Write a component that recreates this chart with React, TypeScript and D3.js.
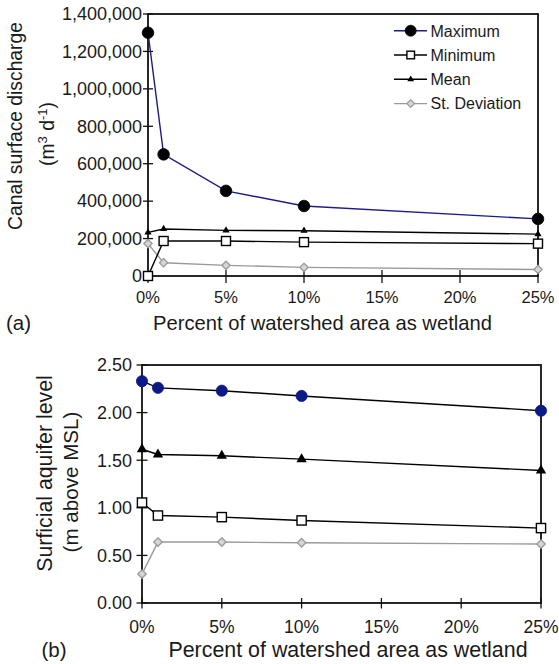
import React from "react";
import * as d3 from "d3";

const wetlandPct = [0, 1, 5, 10, 25];
const xTicks = [0, 5, 10, 15, 20, 25];

// (a) Canal surface discharge (m3 d-1)
const dischargeMax = [1300000, 650000, 455000, 374000, 305000];
const dischargeMin = [0, 187000, 187000, 181000, 173000];
const dischargeMean = [233000, 251000, 244000, 242000, 224000];
const dischargeSD = [173000, 71000, 57000, 46000, 35000];
const dischargeTicks = [0, 200000, 400000, 600000, 800000, 1000000, 1200000, 1400000];

// (b) Surficial aquifer level (m above MSL)
const levelMax = [2.33, 2.26, 2.23, 2.175, 2.02];
const levelMean = [1.615, 1.56, 1.546, 1.511, 1.392];
const levelMin = [1.055, 0.919, 0.902, 0.867, 0.787];
const levelSD = [0.304, 0.64, 0.64, 0.633, 0.619];
const levelTicks = [0, 0.5, 1.0, 1.5, 2.0, 2.5];

const legendNames = ["Maximum", "Minimum", "Mean", "St. Deviation"];

const FONT = "'Liberation Sans', Arial, Helvetica, sans-serif";
const NAVY = "#1c1c86";
const GRAY = "#9a9a9a";

type MarkerKind = "circle" | "square" | "triangle" | "diamond";

function Marker({ kind, x, y, size, fill }: { kind: MarkerKind; x: number; y: number; size: number; fill?: string }) {
  if (kind === "circle") {
    return <circle cx={x} cy={y} r={size} fill={fill || "#000"} stroke={fill || "#000"} strokeWidth={0.8} />;
  }
  if (kind === "square") {
    return (
      <rect x={x - size} y={y - size} width={size * 2} height={size * 2} fill="#fff" stroke="#000" strokeWidth={1.4} />
    );
  }
  if (kind === "triangle") {
    const p = d3.symbol().type(d3.symbolTriangle).size(size * size * 2.2)();
    return <path d={p || ""} transform={`translate(${x},${y})`} fill="#000" />;
  }
  const p = d3.symbol().type(d3.symbolDiamond2 || d3.symbolDiamond).size(size * size * 4)();
  return <path d={p || ""} transform={`translate(${x},${y})`} fill="#d6d6d6" stroke={GRAY} strokeWidth={1.3} />;
}

function Series({
  xs, ys, xScale, yScale, kind, lineColor, markerFill, size,
}: {
  xs: number[]; ys: number[]; xScale: d3.ScaleLinear<number, number>; yScale: d3.ScaleLinear<number, number>;
  kind: MarkerKind; lineColor: string; markerFill?: string; size: number;
}) {
  const pts: [number, number][] = xs.map((v, i) => [xScale(v), yScale(ys[i])]);
  const line = d3.line()(pts) || "";
  return (
    <g>
      <path d={line} fill="none" stroke={lineColor} strokeWidth={1.4} />
      {pts.map((p, i) => (
        <Marker key={i} kind={kind} x={p[0]} y={p[1]} size={size} fill={markerFill} />
      ))}
    </g>
  );
}

export default function App() {
  // Panel (a)
  const xA = d3.scaleLinear().domain([0, 25]).range([148, 538]);
  const yA = d3.scaleLinear().domain([0, 1400000]).range([276, 14]);
  const fmtA = d3.format(",");
  // Panel (b)
  const xB = d3.scaleLinear().domain([0, 25]).range([142, 541]);
  const yB = d3.scaleLinear().domain([0, 2.5]).range([603, 365]);
  const fmtB = d3.format(".2f");

  const legendKinds: MarkerKind[] = ["circle", "square", "triangle", "diamond"];
  const legendColors = [NAVY, "#000", "#000", GRAY];

  return (
    <svg width={559} height={664} style={{ position: "absolute", left: 0, top: 0, background: "#fff" }} fontFamily={FONT}>
      <rect x={0} y={0} width={559} height={664} fill="#fff" />
      {/* ---------- Panel (a) ---------- */}
      <g>
        {dischargeTicks.map((t) => (
          <g key={t}>
            <line x1={143} x2={153} y1={yA(t)} y2={yA(t)} stroke="#111" strokeWidth={1.3} />
            <text x={142} y={yA(t) + 6.3} textAnchor="end" fontSize={18} fill="#1a1a1a">
              {fmtA(t)}
            </text>
          </g>
        ))}
        {xTicks.map((t) => (
          <g key={t}>
            <line x1={xA(t)} x2={xA(t)} y1={270} y2={283} stroke="#111" strokeWidth={1.3} />
            <text x={xA(t)} y={302.6} textAnchor="middle" fontSize={16.5} fill="#1a1a1a">
              {t}%
            </text>
          </g>
        ))}
        <rect x={148} y={14} width={390} height={262} fill="none" stroke="#111" strokeWidth={1.8} />
        <Series xs={wetlandPct} ys={dischargeSD} xScale={xA} yScale={yA} kind="diamond" lineColor={GRAY} size={3.3} />
        <Series xs={wetlandPct} ys={dischargeMean} xScale={xA} yScale={yA} kind="triangle" lineColor="#000" size={3.2} />
        <Series xs={wetlandPct} ys={dischargeMin} xScale={xA} yScale={yA} kind="square" lineColor="#000" size={4.5} />
        <Series xs={wetlandPct} ys={dischargeMax} xScale={xA} yScale={yA} kind="circle" lineColor={NAVY} markerFill="#000" size={5.8} />

        {/* legend */}
        {legendNames.map((n, i) => {
          const y = 30.7 + i * 24.3;
          return (
            <g key={n}>
              <line x1={394} x2={427} y1={y} y2={y} stroke={legendColors[i]} strokeWidth={1.4} />
              <Marker
                kind={legendKinds[i]}
                x={410.7}
                y={y}
                size={i === 0 ? 5.5 : i === 1 ? 3.8 : i === 2 ? 3 : 3}
                fill={i === 0 ? "#000" : undefined}
              />
              <text x={430.5} y={y + 5.8} fontSize={16} fill="#1a1a1a">
                {n}
              </text>
            </g>
          );
        })}

        <text transform="translate(22,126) rotate(-90)" textAnchor="middle" fontSize={19.3} fill="#1a1a1a">
          Canal surface discharge
        </text>
        <text transform="translate(54,134) rotate(-90)" textAnchor="middle" fontSize={19.3} fill="#1a1a1a">
          (m<tspan baselineShift="super" fontSize={13}>3</tspan> d<tspan baselineShift="super" fontSize={13}>-1</tspan>)
        </text>
        <text x={322.5} y={330} textAnchor="middle" fontSize={20.2} fill="#1a1a1a">
          Percent of watershed area as wetland
        </text>
        <text x={6} y={330} fontSize={20.5} fill="#1a1a1a">
          (a)
        </text>
      </g>

      {/* ---------- Panel (b) ---------- */}
      <g>
        {levelTicks.map((t) => (
          <g key={t}>
            <line x1={136.5} x2={147.5} y1={yB(t)} y2={yB(t)} stroke="#111" strokeWidth={1.3} />
            <text x={132} y={yB(t) + 6.4} textAnchor="end" fontSize={18} fill="#1a1a1a">
              {fmtB(t)}
            </text>
          </g>
        ))}
        {xTicks.map((t) => (
          <g key={t}>
            <line x1={xB(t)} x2={xB(t)} y1={598} y2={608.5} stroke="#111" strokeWidth={1.3} />
            <text x={xB(t)} y={633.3} textAnchor="middle" fontSize={17.5} fill="#1a1a1a">
              {t}%
            </text>
          </g>
        ))}
        <rect x={142} y={365} width={399} height={238} fill="none" stroke="#111" strokeWidth={1.8} />
        <Series xs={wetlandPct} ys={levelSD} xScale={xB} yScale={yB} kind="diamond" lineColor={GRAY} size={3.4} />
        <Series xs={wetlandPct} ys={levelMin} xScale={xB} yScale={yB} kind="square" lineColor="#000" size={4.6} />
        <Series xs={wetlandPct} ys={levelMean} xScale={xB} yScale={yB} kind="triangle" lineColor="#000" size={4.6} />
        <Series xs={wetlandPct} ys={levelMax} xScale={xB} yScale={yB} kind="circle" lineColor="#000" markerFill="#0c1a88" size={5.6} />

        <text transform="translate(52,473.5) rotate(-90)" textAnchor="middle" fontSize={21.3} fill="#1a1a1a">
          Surficial aquifer level
        </text>
        <text transform="translate(78,482) rotate(-90)" textAnchor="middle" fontSize={20.6} fill="#1a1a1a">
          (m above MSL)
        </text>
        <text x={348} y={656.5} textAnchor="middle" fontSize={21.4} fill="#1a1a1a">
          Percent of watershed area as wetland
        </text>
        <text x={41.5} y={656.5} fontSize={20.5} fill="#1a1a1a">
          (b)
        </text>
      </g>
    </svg>
  );
}
